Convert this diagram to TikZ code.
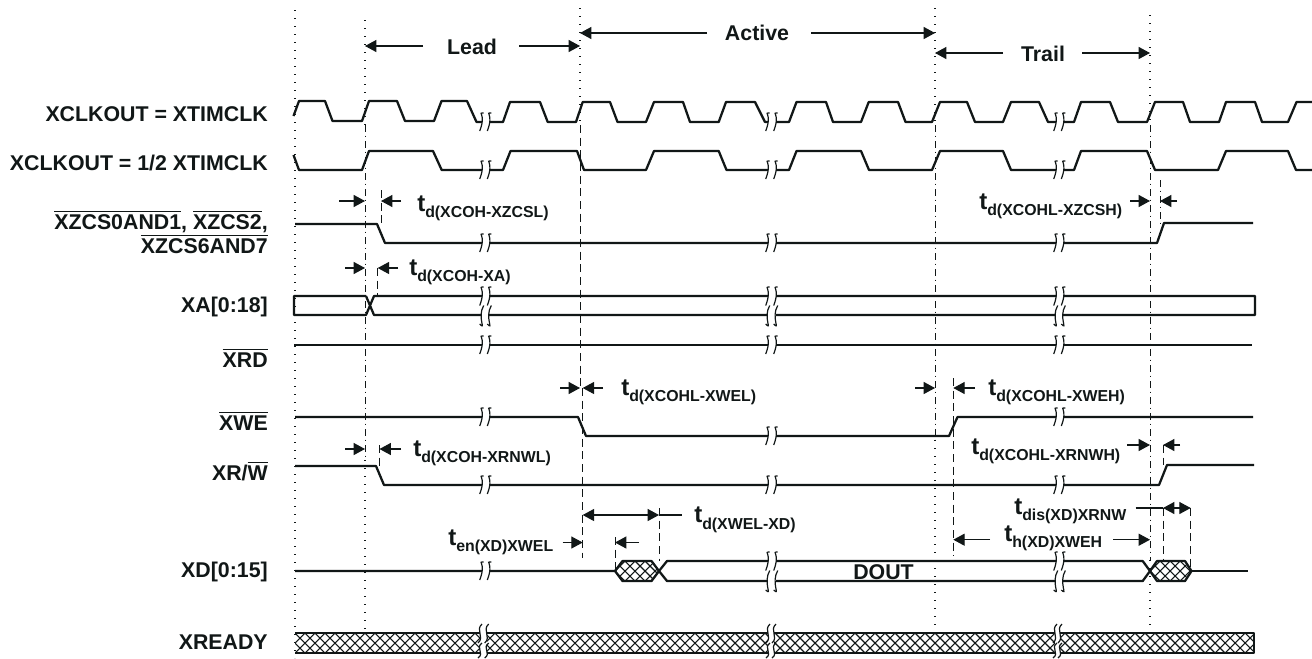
\documentclass[tikz,border=0pt]{standalone}
\usepackage{fontspec}
\setmainfont{Liberation Sans}
\usetikzlibrary{arrows.meta}
\definecolor{ink}{HTML}{111717}
\newcommand\ovl[1]{\leavevmode\setbox0\hbox{#1}\rlap{\raisebox{13.1pt}{\rule{\wd0}{0.75pt}}}\box0}
\tikzset{
  sig/.style={ink,line width=1.7pt,line join=round},
  guidedot/.style={ink,line width=0.8pt,dash pattern=on 1pt off 5pt},
  guidedd/.style={ink,line width=0.75pt,dash pattern=on 5pt off 3pt on 1pt off 3pt},
  guidedash/.style={ink,line width=0.75pt,dash pattern=on 6pt off 3.5pt},
  tip/.style={ink,line width=0.8pt,-{Triangle[length=8.5pt,width=9pt]}},
  tips/.style={ink,line width=0.8pt,{Triangle[length=8.5pt,width=9pt]}-{Triangle[length=8.5pt,width=9pt]}},
  hatch/.style={ink,line width=0.8pt},
  brkline/.style={ink,line width=0.9pt},
  txt/.style={ink,font=\fontsize{16}{18}\selectfont\bfseries,inner sep=0pt},
  lab/.style={txt,anchor=base east},
  tim/.style={txt,anchor=base west},
  ttl/.style={txt,anchor=center},
}
\newcommand\sshape[3]{% x, y top, y bottom
  \draw[brkline] ({#1+2},#2) .. controls ({#1-5},{#2+0.32*(#3-#2)}) and ({#1+5},{#2+0.68*(#3-#2)}) .. ({#1-2},#3);}
\newcommand\brkone[3]{% x1, x2, y
  \fill[white] (#1,{#3-4}) rectangle (#2,{#3+4});
  \sshape{#1}{#3-9}{#3+9}\sshape{#2}{#3-9}{#3+9}}
\newcommand\brktwo[4]{% x1, x2, ytop, ybot
  \fill[white] (#1,{#3-4}) rectangle (#2,{#4+4});
  \sshape{#1}{#3-9}{#3+9.5}\sshape{#2}{#3-9}{#3+9.5}
  \sshape{#1}{#3+9.5}{#4+9}\sshape{#2}{#3+9.5}{#4+9}}
\newcommand\timlab[5]{% name, x, y, main, sub
  \node[tim] (#1) at (#2,#3) {\fontsize{18}{18}\selectfont #4\raisebox{-5.2pt}{\fontsize{11.9}{13}\selectfont #5}};}
\begin{document}
\begin{tikzpicture}[x=0.75pt,y=-0.75pt]
\useasboundingbox (0,0) rectangle (1312,658);
\fill[white] (0,0) rectangle (1312,658);
% guides
\draw[guidedot] (295,10) -- (295,658);
\draw[guidedot] (365,20) -- (365,125);
\draw[guidedd] (365,125) -- (365,460);
\draw[guidedot] (365,460) -- (365,632);
\draw[guidedot] (580,8) -- (580,125);
\draw[guidedash] (580,125) -- (580,388);
\draw[guidedash] (582.7,388) -- (582.7,558);
\draw[guidedot] (935,8) -- (935,125);
\draw[guidedd] (935,125) -- (935,440);
\draw[guidedot] (935,440) -- (935,632);
\draw[guidedot] (1150,15) -- (1150,125);
\draw[guidedd] (1150,125) -- (1150,560);
\draw[guidedot] (1150,560) -- (1150,632);
\draw[guidedash] (381,190) -- (381,224);
\draw[guidedd] (1160,180) -- (1160,223);
\draw[guidedash] (377.7,268) -- (377.7,296);
\draw[guidedash] (953.3,378) -- (953.3,556);
\draw[guidedash] (379.5,445) -- (379.5,466);
\draw[guidedash] (1163,445) -- (1163,465);
\draw[guidedash] (615,537) -- (615,571);
\draw[guidedash] (659,508) -- (659,561);
\draw[guidedash] (1163,508) -- (1163,561);
\draw[guidedash] (1190.7,508) -- (1190.7,571);
% phase arrows
\node[ttl] (lead) at (472,47) {Lead};
\node[ttl] (active) at (757,33) {Active};
\node[ttl] (trail) at (1043,54) {Trail};
\draw[tip] (423,46) -- (365,46);
\draw[tip] (519,46) -- (580,46);
\draw[tip] (707,33) -- (580,33);
\draw[tip] (811,33) -- (935,33);
\draw[tip] (1003,53) -- (935,53);
\draw[tip] (1082,53) -- (1150,53);
% clock 1
\draw[sig] (293.5,116) -- (299,101) -- (325,101) -- (332.5,121) -- (362,121) -- (369,101) -- (397,101) -- (405,121) -- (434,121) -- (441.5,101) -- (467,101) -- (476.5,122) -- (503,122) -- (510,102) -- (540,102) -- (547.7,122) -- (576,122) -- (582.7,102) -- (610,102) -- (617.5,122) -- (646,122) -- (654,102) -- (683,102) -- (690,122) -- (718.7,122) -- (726,102) -- (755,102) -- (765,122) -- (789,122) -- (796.5,102) -- (826,102) -- (833,122) -- (861,122) -- (868.7,102) -- (898,102) -- (905.5,122) -- (932,122) -- (940,102) -- (967,102) -- (975,122) -- (1003,122) -- (1011,102) -- (1039,102) -- (1048,122) -- (1074,122) -- (1081,102) -- (1110,102) -- (1118,122) -- (1147,122) -- (1155,102) -- (1183,102) -- (1190,122) -- (1219,122) -- (1226,102) -- (1255,102) -- (1262,122) -- (1288,122) -- (1296.5,102) -- (1312,102);
% clock 2
\draw[sig] (293.5,155) -- (299,170) -- (362,170) -- (369,151) -- (433,151) -- (441.7,170) -- (503,170) -- (510.5,151) -- (577,151) -- (584,170) -- (646,170) -- (654,151) -- (718.7,151) -- (726.5,170) -- (789,170) -- (796.5,151) -- (861,151) -- (869,170) -- (932,170) -- (940,151) -- (1003,151) -- (1011,170) -- (1074,170) -- (1081,151) -- (1147,151) -- (1155,170) -- (1218,170) -- (1226,151) -- (1288,151) -- (1296,170) -- (1312,170);
% chip select
\draw[sig] (295,224) -- (377,224) -- (385,243) -- (1157,243) -- (1164,223) -- (1253,223);
% address
\draw[sig] (366,296) -- (294,296) -- (294,315) -- (366,315) -- (374,296) -- (1255,296) -- (1255,315) -- (374,315) -- (366,296);
% read
\draw[sig] (294,345) -- (1252,345);
% write
\draw[sig] (295,417) -- (578,417) -- (586,436) -- (949,436) -- (957.5,417) -- (1253,417);
% r/w
\draw[sig] (295,466) -- (376,466) -- (384,485) -- (1159,485) -- (1167,465) -- (1254,465);
% data
\begin{scope}
\clip (615,571) -- (622.5,561) -- (651.5,561) -- (659,571) -- (651.5,581) -- (622.5,581) -- cycle;
\foreach \h in {595,605,...,655} {\draw[hatch] (\h,561) -- (\h+20,581);}
\foreach \h in {615,625,...,675} {\draw[hatch] (\h,561) -- (\h-20,581);}
\end{scope}
\begin{scope}
\clip (1150,571) -- (1157,561) -- (1185,561) -- (1191.5,571) -- (1185,581) -- (1157,581) -- cycle;
\foreach \h in {1130,1140,...,1190} {\draw[hatch] (\h,561) -- (\h+20,581);}
\foreach \h in {1150,1160,...,1210} {\draw[hatch] (\h,561) -- (\h-20,581);}
\end{scope}
\draw[sig] (295,571) -- (615,571) -- (622.5,561) -- (651.5,561) -- (659,571) -- (651.5,581) -- (622.5,581) -- (615,571);
\draw[sig] (659,571) -- (667,561) -- (1142.7,561) -- (1150,571) -- (1142.7,581) -- (667,581) -- (659,571);
\draw[sig] (1150,571) -- (1157,561) -- (1185,561) -- (1191.5,571) -- (1185,581) -- (1157,581) -- (1150,571);
\draw[sig] (1191.5,571) -- (1247.7,571);
% xready
\begin{scope}
\clip (295,633) rectangle (1254,653);
\foreach \h in {275,285,...,1255} {\draw[hatch] (\h,633) -- (\h+20,653);}
\foreach \h in {295,305,...,1275} {\draw[hatch] (\h,633) -- (\h-20,653);}
\end{scope}
\draw[sig] (295,633) -- (1254,633) -- (1254,653) -- (295,653);
% breaks
\foreach \a/\b in {481.7/489.3,767.7/775.7,1055.7/1063.3} {
  \brkone{\a}{\b}{122}
  \brkone{\a}{\b}{170}
  \brkone{\a}{\b}{243}
  \brktwo{\a}{\b}{296}{315}
  \brkone{\a}{\b}{345}
  \brkone{\a}{\b}{485}
}
\brkone{481.7}{489.3}{571}
\brktwo{767.7}{775.7}{561}{581}
\brktwo{1055.7}{1063.3}{561}{581}
\brkone{481.7}{489.3}{417}
\brkone{767.7}{775.7}{436}
\brkone{1055.7}{1063.3}{417}
\fill[white] (480,628) rectangle (486.7,658);
\fill[white] (768,628) rectangle (774,658);
\fill[white] (1055,628) rectangle (1060,658);
\sshape{480}{624}{643}\sshape{486.7}{624}{643}\sshape{480}{643}{658}\sshape{486.7}{643}{658}
\sshape{768}{624}{643}\sshape{774}{624}{643}\sshape{768}{643}{658}\sshape{774}{643}{658}
\sshape{1055}{624}{643}\sshape{1060}{624}{643}\sshape{1055}{643}{658}\sshape{1060}{643}{658}
% signal labels
\node[lab] (l1) at (268,121) {XCLKOUT = XTIMCLK};
\node[lab] (l2) at (268,170) {XCLKOUT = 1/2 XTIMCLK};
\node[lab] (l3) at (268,229) {\ovl{XZCS0AND1}, \ovl{XZCS2},};
\node[lab] (l4) at (268,253) {\ovl{XZCS6AND7}};
\node[lab] (l5) at (268,312) {XA[0:18]};
\node[lab] (l6) at (268,367) {\ovl{XRD}};
\node[lab] (l7) at (268,430) {\ovl{XWE}};
\node[lab] (l8) at (268,480) {XR/\ovl{W}};
\node[lab] (l9) at (268,577) {XD[0:15]};
\node[lab] (l10) at (268,649) {XREADY};
\node[txt,anchor=base west] (dout) at (853,579) {DOUT};
% delay arrows
\draw[tip] (339,201) -- (365,201);
\draw[tip] (401,201) -- (381,201);
\timlab{a}{417}{211}{t}{d(XCOH-XZCSL)}
\draw[tip] (1130,201) -- (1150,201);
\draw[tip] (1177,201) -- (1160,201);
\timlab{b}{979}{209}{t}{d(XCOHL-XZCSH)}
\draw[tip] (345,268) -- (365,268);
\draw[tip] (398,268) -- (377.7,268);
\timlab{c}{409}{275}{t}{d(XCOH-XA)}
\draw[tip] (560,388) -- (580,388);
\draw[tip] (603,388) -- (582.7,388);
\timlab{d}{621}{395}{t}{d(XCOHL-XWEL)}
\draw[tip] (915,388) -- (935,388);
\draw[tip] (975,388) -- (953.3,388);
\timlab{e}{988}{395}{t}{d(XCOHL-XWEH)}
\draw[tip] (345,449) -- (365,449);
\draw[tip] (401,449) -- (379.5,449);
\timlab{f}{413}{456}{t}{d(XCOH-XRNWL)}
\draw[tip] (1127,445) -- (1150,445);
\draw[tip] (1180,445) -- (1163,445);
\timlab{g}{971}{454}{t}{d(XCOHL-XRNWH)}
\draw[tips] (582.7,515) -- (659,515);
\draw[ink,line width=0.8pt] (659,515) -- (681.7,515);
\timlab{h}{694}{522.7}{t}{d(XWEL-XD)}
\draw[tip] (562.7,542.5) -- (582.7,542.5);
\draw[tip] (639,542.5) -- (615,542.5);
\timlab{i}{448}{545}{t}{en(XD)XWEL}
\draw[ink,line width=0.8pt] (1135.7,508) -- (1163,508);
\draw[tips] (1163,508) -- (1190.7,508);
\timlab{j}{1014}{514}{t}{dis(XD)XRNW}
\draw[tip] (990,539.7) -- (953.3,539.7);
\draw[tip] (1113,539.7) -- (1150,539.7);
\timlab{k}{1004}{541}{t}{h(XD)XWEH}
\end{tikzpicture}
\end{document}
